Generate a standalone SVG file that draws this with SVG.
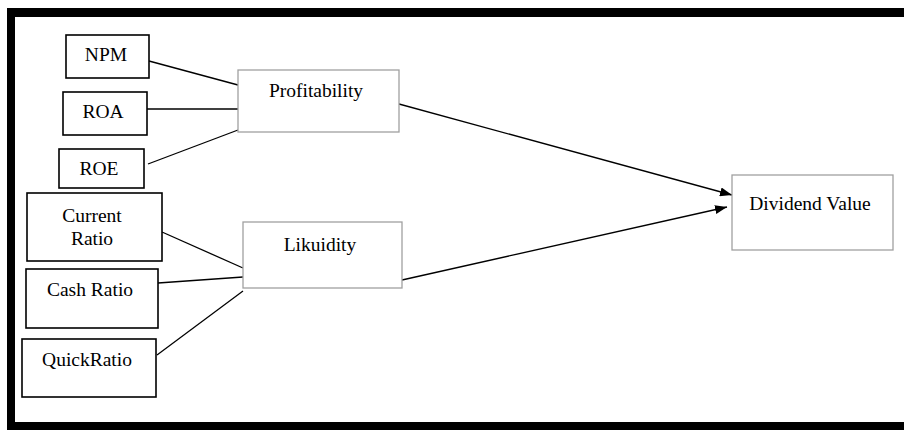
<svg xmlns="http://www.w3.org/2000/svg" width="904" height="430" viewBox="0 0 904 430">
<style>
.t{font-family:"Liberation Serif","Times New Roman",serif;font-size:19.5px;fill:#000;text-anchor:middle}
.bk{fill:#fff;stroke:#000;stroke-width:1.6}
.gr{fill:#fff;stroke:#a0a0a0;stroke-width:1.3}
.ln{stroke:#000;stroke-width:1.3;fill:none}
</style>
<defs>
<marker id="ah" markerWidth="12" markerHeight="9" refX="12" refY="4.5" orient="auto" markerUnits="userSpaceOnUse">
<path d="M0,0 L12,4.5 L0,9 Z" fill="#000"/>
</marker>
</defs>
<rect x="0" y="0" width="904" height="430" fill="#fff"/>
<g id="frame">
<rect x="7" y="8" width="897" height="9" fill="#000"/>
<rect x="7" y="8" width="8" height="422" fill="#000"/>
<rect x="7" y="422" width="897" height="8" fill="#000"/>
</g>
<g id="connectors">
<line class="ln" x1="149" y1="61" x2="238" y2="85"/>
<line class="ln" x1="147" y1="109" x2="238" y2="109" stroke-width="2"/>
<line class="ln" x1="148" y1="164" x2="238" y2="130"/>
<line class="ln" x1="162" y1="232" x2="243" y2="268"/>
<line class="ln" x1="158" y1="283" x2="243" y2="277"/>
<line class="ln" x1="157" y1="355" x2="243" y2="291"/>
<line class="ln" x1="399" y1="104" x2="732" y2="195" marker-end="url(#ah)"/>
<line class="ln" x1="402" y1="280" x2="727" y2="207" marker-end="url(#ah)"/>
</g>
<g id="npm"><rect class="bk" x="66" y="35" width="83" height="43"/><text class="t" x="106" y="61">NPM</text></g>
<g id="roa"><rect class="bk" x="63" y="92" width="84" height="43"/><text class="t" x="103" y="118">ROA</text></g>
<g id="roe"><rect class="bk" x="59" y="149" width="85" height="39"/><text class="t" x="99" y="175">ROE</text></g>
<g id="current"><rect class="bk" x="27" y="193" width="135" height="68"/><text class="t" x="92" y="222">Current</text><text class="t" x="92" y="245">Ratio</text></g>
<g id="cash"><rect class="bk" x="26" y="269" width="132" height="59"/><text class="t" x="90" y="296">Cash Ratio</text></g>
<g id="quick"><rect class="bk" x="22" y="339" width="134" height="58"/><text class="t" x="87" y="366">QuickRatio</text></g>
<g id="profitability"><rect class="gr" x="238" y="70" width="161" height="62"/><text class="t" x="316" y="97">Profitability</text></g>
<g id="likuidity"><rect class="gr" x="243" y="222" width="159" height="66"/><text class="t" x="320" y="251">Likuidity</text></g>
<g id="dividend"><rect class="gr" x="732" y="175" width="161" height="75"/><text class="t" x="810" y="210">Dividend Value</text></g>
</svg>
